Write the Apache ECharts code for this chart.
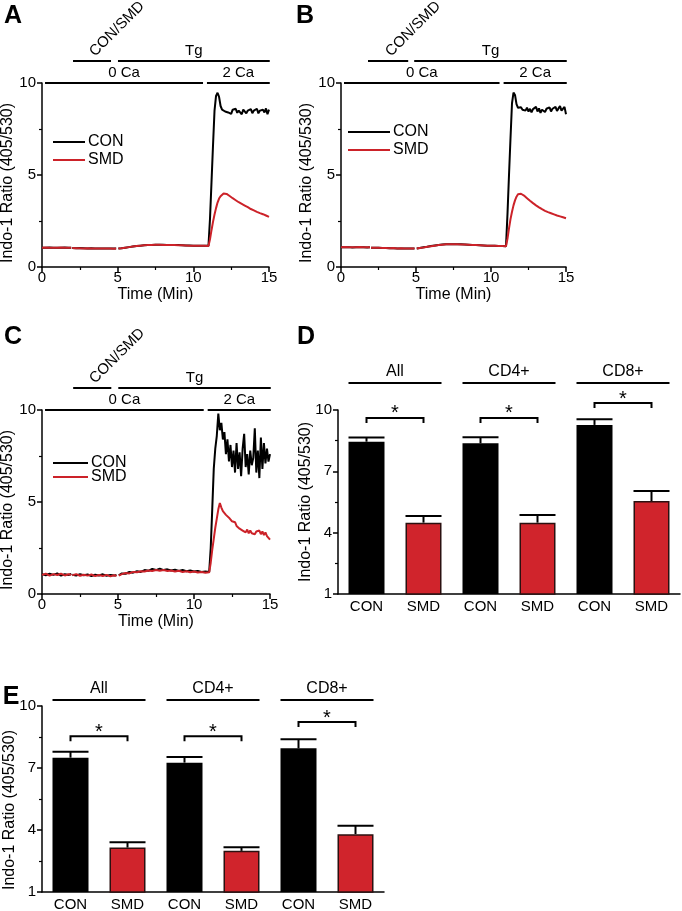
<!DOCTYPE html>
<html><head><meta charset="utf-8">
<script src="https://cdn.jsdelivr.net/npm/echarts@6/dist/echarts.min.js"></script>
<style>html,body{margin:0;padding:0;background:#fff}#c{width:682px;height:911px}</style>
</head><body><div id="c"></div>
<script>
// ---------------- DATA ----------------
const time = [0,0.25,0.5,0.75,1,1.25,1.5,1.75,1.93,1.96,
  2,2.25,2.5,2.75,3,3.25,3.5,3.75,4,4.25,4.5,4.75,4.9,4.97,
  5.05,5.25,5.5,5.75,6,6.25,6.5,6.75,7,7.25,7.5,7.75,8,8.25,8.5,8.75,9,9.25,9.5,9.75,10,10.25,10.5,10.75,11,
  11.1,11.2,11.3,11.4,11.5,11.6,11.7,11.8,11.9,12,12.1,12.2,12.3,12.4,12.5,12.6,12.7,12.8,12.9,13,
  13.1,13.2,13.3,13.4,13.5,13.6,13.7,13.8,13.9,14,14.1,14.2,14.3,14.4,14.5,14.6,14.7,14.8,14.9,15];

const aCon = [1.05,1.04,1.06,1.05,1.04,1.05,1.06,1.05,1.05,null,
  1.03,1.02,1.03,1.02,1.01,1.02,1.01,1.0,1.01,1.0,1.0,1.01,1.0,null,
  1.0,1.02,1.05,1.08,1.11,1.14,1.16,1.18,1.19,1.2,1.21,1.21,1.21,1.2,1.2,1.19,1.19,1.18,1.17,1.17,1.16,1.16,1.15,1.15,1.15,
  2.6,4.6,6.6,8.5,9.3,9.47,9.25,8.75,8.55,8.6,8.45,8.55,8.4,8.5,8.32,8.55,8.45,8.6,8.38,8.5,
  8.42,8.3,8.55,8.45,8.35,8.5,8.4,8.58,8.36,8.5,8.44,8.6,8.35,8.5,8.42,8.55,8.4,8.62,8.3,8.55];
const aSmd = [1.05,1.06,1.05,1.04,1.05,1.06,1.05,1.04,1.05,null,
  1.03,1.02,1.02,1.01,1.02,1.01,1.0,1.01,1.0,1.0,1.0,0.99,1.0,null,
  1.0,1.02,1.05,1.08,1.11,1.14,1.16,1.18,1.19,1.2,1.21,1.21,1.2,1.2,1.19,1.19,1.18,1.18,1.17,1.16,1.16,1.15,1.15,1.15,1.14,
  1.5,2.0,2.45,2.85,3.2,3.5,3.72,3.85,3.95,4.0,4.02,3.97,3.93,3.86,3.8,3.74,3.7,3.63,3.58,3.52,
  3.48,3.43,3.38,3.34,3.28,3.25,3.2,3.15,3.12,3.08,3.03,3.0,2.96,2.93,2.9,2.87,2.84,2.8,2.78,2.72];

const bCon = [1.08,1.07,1.08,1.06,1.07,1.08,1.07,1.06,1.07,null,
  1.05,1.04,1.04,1.03,1.03,1.02,1.02,1.01,1.01,1.01,1.0,1.01,1.0,null,
  1.0,1.03,1.07,1.1,1.14,1.17,1.2,1.22,1.23,1.24,1.24,1.23,1.23,1.22,1.21,1.2,1.19,1.18,1.17,1.16,1.15,1.15,1.14,1.14,1.13,
  2.9,5.0,7.0,8.9,9.48,9.35,8.85,8.65,8.6,8.68,8.55,8.62,8.5,8.66,8.45,8.6,8.4,8.58,8.5,8.7,
  8.45,8.62,8.38,8.55,8.65,8.42,8.6,8.5,8.68,8.45,8.6,8.52,8.7,8.48,8.62,8.75,8.5,8.6,8.7,8.3];
const bSmd = [1.08,1.09,1.07,1.08,1.07,1.09,1.08,1.07,1.08,null,
  1.05,1.04,1.05,1.03,1.03,1.02,1.03,1.01,1.02,1.01,1.0,1.0,1.0,null,
  1.0,1.03,1.06,1.1,1.13,1.16,1.19,1.21,1.23,1.24,1.23,1.23,1.22,1.22,1.21,1.2,1.19,1.18,1.17,1.16,1.16,1.15,1.14,1.14,1.13,
  1.55,2.1,2.6,3.0,3.35,3.62,3.82,3.95,4.0,3.98,3.93,3.88,3.8,3.74,3.66,3.6,3.52,3.47,3.4,3.35,
  3.3,3.24,3.2,3.14,3.1,3.05,3.02,2.98,2.95,2.92,2.88,2.86,2.82,2.8,2.77,2.75,2.72,2.7,2.68,2.65];

const cCon = [1.08,1.02,1.1,1.04,1.12,1.0,1.07,1.03,1.09,null,
  1.05,1.0,1.08,1.02,1.06,0.98,1.05,1.01,1.07,0.99,1.04,1.0,1.03,null,
  1.02,1.12,1.1,1.2,1.16,1.24,1.2,1.3,1.26,1.36,1.3,1.38,1.3,1.34,1.28,1.32,1.25,1.3,1.24,1.28,1.22,1.25,1.2,1.22,1.2,
  2.5,4.6,6.8,7.9,8.6,9.8,8.9,9.3,8.4,8.8,7.6,8.4,7.2,8.1,6.9,7.8,6.6,8.2,6.8,7.7,
  6.4,7.9,8.7,6.9,7.6,6.5,7.8,7.0,7.4,9.0,6.6,7.8,6.3,8.5,6.8,8.2,7.1,7.9,7.2,7.6];
const cSmd = [1.04,1.1,1.0,1.08,1.03,1.1,1.01,1.07,1.04,null,
  1.02,1.08,0.99,1.05,1.0,1.06,0.97,1.03,0.98,1.04,0.96,1.02,0.98,null,
  1.0,1.08,1.14,1.12,1.2,1.18,1.24,1.22,1.28,1.25,1.3,1.26,1.3,1.25,1.28,1.22,1.26,1.2,1.24,1.18,1.22,1.17,1.2,1.16,1.18,
  1.7,2.4,3.0,3.6,4.1,4.6,4.94,4.7,4.5,4.6,4.3,4.35,4.15,4.2,3.95,3.85,3.9,3.7,3.75,3.55,
  3.65,3.45,3.5,3.35,3.5,3.3,3.45,3.3,3.4,3.25,3.4,3.3,3.45,3.25,3.4,3.2,3.35,3.15,3.1,2.95];

const treatLabels = ['CON/SMD','Tg'];
const treatSpansAC = [[2.05,4.56],[5.02,15.05]];
const treatSpansB  = [[1.8,4.48],[4.88,15.05]];
const caLabels = ['0 Ca','2 Ca'];
const caSpansAC = [[0.2,10.64],[10.9,15.05]];
const caSpansB  = [[0.2,10.57],[10.84,15.05]];

const barCategories = ['CON','SMD','CON','SMD','CON','SMD'];
const groupNames = ['All','CD4+','CD8+'];
const dCon = [8.45,8.37,9.27], dConErr = [0.20,0.30,0.28];
const dSmd = [4.49,4.49,5.55], dSmdErr = [0.33,0.37,0.49];
const eCon = [7.50,7.26,7.95], eConErr = [0.29,0.27,0.44];
const eSmd = [3.15,2.99,3.80], eSmdErr = [0.26,0.18,0.41];
const sigMark = '*';

// ---------------- STYLE ----------------
const FONT = '"Liberation Sans", Arial, Helvetica, sans-serif';
const RED = '#cc2229';
const BAR_RED = '#d0242c';
const BAR_W = 36;
const yName = 'Indo-1 Ratio (405/530)';

function pairs(vals){ return time.map((t,i)=> vals[i]==null ? [t,'-'] : [t, vals[i]]); }

const axisCommon = {
  axisLine:{show:true, onZero:false, lineStyle:{color:'#000', width:1.5}},
  axisTick:{show:true, length:5, lineStyle:{color:'#000', width:1.5}},
  axisLabel:{color:'#000', fontSize:15, fontFamily:FONT},
  splitLine:{show:false},
  nameMoveOverlap:false,
  nameTextStyle:{color:'#000', fontSize:16, fontFamily:FONT}
};
function timeX(gi){
  return Object.assign({}, axisCommon, {gridIndex:gi, type:'value', min:0, max:15, interval:5,
    minorTick:{show:true, splitNumber:2, length:3, lineStyle:{color:'#000', width:1.2}},
    axisLabel:Object.assign({}, axisCommon.axisLabel, {margin:3}),
    name:'Time (Min)', nameLocation:'middle', nameGap:20});
}
function ratioY(gi, shift){
  return Object.assign({}, axisCommon, {gridIndex:gi, type:'value', min:0, max:10, interval:5,
    minorTick:{show:true, splitNumber:2, length:3, lineStyle:{color:'#000', width:1.2}},
    axisLabel:Object.assign({}, axisCommon.axisLabel, {margin:6}),
    name:yName, nameLocation:'middle', nameGap:26,
    nameTextStyle:Object.assign({}, axisCommon.nameTextStyle, {padding:[0,shift,0,0]})});
}
function catX(gi){
  return Object.assign({}, axisCommon, {gridIndex:gi, type:'category', data:barCategories,
    axisTick:{show:false}, axisLabel:Object.assign({}, axisCommon.axisLabel, {margin:5})});
}
function barY(gi, shift){
  return Object.assign({}, axisCommon, {gridIndex:gi, type:'value', min:1, max:10, interval:3,
    minorTick:{show:true, splitNumber:2, length:3, lineStyle:{color:'#000', width:1.2}},
    axisLabel:Object.assign({}, axisCommon.axisLabel, {margin:6}),
    name:yName, nameLocation:'middle', nameGap:24,
    nameTextStyle:Object.assign({}, axisCommon.nameTextStyle, {padding:[0,shift,0,0]})});
}

function lineSeries(gi, name, vals, color){
  return {type:'line', name, xAxisIndex:gi, yAxisIndex:gi, data:pairs(vals), symbol:'none', showSymbol:false,
    lineStyle:{color, width:2}, itemStyle:{color}, clip:true, silent:true, connectNulls:false};
}

function spanSeries(gi, spans, labels, level){
  return {type:'custom', xAxisIndex:gi, yAxisIndex:gi, clip:false, silent:true, z:5,
    data:spans.map(s=>[s[0], s[1], level]), encode:{x:[0,1], y:2},
    renderItem:(params, api)=>{
      const a = api.coord([api.value(0), api.value(2)]);
      const b = api.coord([api.value(1), api.value(2)]);
      const text = labels[params.dataIndex];
      const mid = (a[0]+b[0])/2;
      const rotated = text === 'CON/SMD';
      const txt = rotated
        ? {type:'text', x:mid+25, y:a[1]-32, rotation:Math.PI/4,
           style:{text, x:0, y:0, align:'center', verticalAlign:'middle', fontSize:15, fontFamily:FONT, fill:'#000'}}
        : {type:'text', x:mid, y:a[1]-10,
           style:{text, x:0, y:0, align:'center', verticalAlign:'middle', fontSize:15, fontFamily:FONT, fill:'#000'}};
      return {type:'group', children:[
        {type:'line', shape:{x1:a[0], y1:a[1], x2:b[0], y2:b[1]}, style:{stroke:'#000', lineWidth:2}},
        txt]};
    }};
}

function barSeries(gi, vals, offset, color, border){
  return {type:'bar', xAxisIndex:gi, yAxisIndex:gi, barWidth:BAR_W, barGap:'-100%', silent:true,
    data:barCategories.map((c,i)=> (i%2===offset) ? vals[(i-offset)/2] : '-'),
    itemStyle:{color, borderColor:border, borderWidth:border ? 1.5 : 0}};
}
function errSeries(gi, means, errs, offset){
  return {type:'custom', xAxisIndex:gi, yAxisIndex:gi, clip:false, silent:true, z:4,
    data:means.map((m,i)=>[2*i+offset, m, errs[i]]), encode:{x:0, y:1},
    renderItem:(params, api)=>{
      const base = api.coord([api.value(0), api.value(1)]);
      const top = api.coord([api.value(0), api.value(1)+api.value(2)]);
      return {type:'group', children:[
        {type:'line', shape:{x1:base[0], y1:base[1], x2:top[0], y2:top[1]}, style:{stroke:'#000', lineWidth:2}},
        {type:'line', shape:{x1:top[0]-BAR_W/2, y1:top[1], x2:top[0]+BAR_W/2, y2:top[1]}, style:{stroke:'#000', lineWidth:2}}
      ]};
    }};
}
function headerSeries(gi, level){
  return {type:'custom', xAxisIndex:gi, yAxisIndex:gi, clip:false, silent:true, z:5,
    data:groupNames.map((g,i)=>[2*i, 2*i+1, level]), encode:{x:[0,1], y:2},
    renderItem:(params, api)=>{
      const a = api.coord([api.value(0), api.value(2)]);
      const b = api.coord([api.value(1), api.value(2)]);
      const x1 = a[0]-BAR_W/2, x2 = b[0]+BAR_W/2;
      return {type:'group', children:[
        {type:'line', shape:{x1, y1:a[1], x2, y2:a[1]}, style:{stroke:'#000', lineWidth:2}},
        {type:'text', x:(x1+x2)/2, y:a[1]-11, style:{text:groupNames[params.dataIndex], x:0, y:0, align:'center', verticalAlign:'middle', fontSize:16, fontFamily:FONT, fill:'#000'}}
      ]};
    }};
}
function sigSeries(gi, levels){
  return {type:'custom', xAxisIndex:gi, yAxisIndex:gi, clip:false, silent:true, z:5,
    data:levels.map((l,i)=>[2*i, 2*i+1, l]), encode:{x:[0,1], y:2},
    renderItem:(params, api)=>{
      const a = api.coord([api.value(0), api.value(2)]);
      const b = api.coord([api.value(1), api.value(2)]);
      return {type:'group', children:[
        {type:'polyline', shape:{points:[[a[0],a[1]+5],[a[0],a[1]],[b[0],b[1]],[b[0],b[1]+5]]}, style:{stroke:'#000', lineWidth:2, fill:null}},
        {type:'text', x:(a[0]+b[0])/2, y:a[1]-4, style:{text:sigMark, x:0, y:0, align:'center', verticalAlign:'middle', fontSize:20, fontFamily:FONT, fill:'#000'}}
      ]};
    }};
}

function legendAt(left, top, w, gap){
  return {data:['CON','SMD'], left, top, orient:'vertical', icon:'rect', itemWidth:w, itemHeight:2, itemGap:gap,
    padding:0, selectedMode:false, textStyle:{color:'#000', fontSize:16, fontFamily:FONT, padding:[0,0,0,-2]}};
}

const letterStyle = {fontSize:25, fontWeight:'bold', fontFamily:FONT, fill:'#000'};
function letter(t, x, y){ return {type:'text', x, y, style:Object.assign({text:t, align:'center', verticalAlign:'middle'}, letterStyle)}; }

function gridAt(left, top, width, height){ return {left, top, width, height, outerBoundsMode:'none', containLabel:false}; }

const option = {
  animation:false,
  backgroundColor:'#fff',
  textStyle:{fontFamily:FONT},
  grid:[
    gridAt(42,83,227,184),
    gridAt(341,83,225,184),
    gridAt(42,410,228,184),
    gridAt(338,410,342,184),
    gridAt(42,706,342,186)
  ],
  xAxis:[timeX(0), timeX(1), timeX(2), catX(3), catX(4)],
  yAxis:[ratioY(0,16), ratioY(1,16), ratioY(2,16), barY(3,0), barY(4,22)],
  legend:[legendAt(53,134,32,2), legendAt(348,124,42,2), legendAt(53,455,35,-2)],
  graphic:[letter('A',13,16), letter('B',305,16), letter('C',13,337), letter('D',306,337), letter('E',11,697)],
  series:[
    lineSeries(0,'CON',aCon,'#000'), lineSeries(0,'SMD',aSmd,RED),
    lineSeries(1,'CON',bCon,'#000'), lineSeries(1,'SMD',bSmd,RED),
    lineSeries(2,'CON',cCon,'#000'), lineSeries(2,'SMD',cSmd,RED),
    spanSeries(0,treatSpansAC,treatLabels,11.2), spanSeries(0,caSpansAC,caLabels,10),
    spanSeries(1,treatSpansB,treatLabels,11.2), spanSeries(1,caSpansB,caLabels,10),
    spanSeries(2,treatSpansAC,treatLabels,11.2), spanSeries(2,caSpansAC,caLabels,10),
    barSeries(3,dCon,0,'#000',null), barSeries(3,dSmd,1,BAR_RED,'#2b1010'),
    errSeries(3,dCon,dConErr,0), errSeries(3,dSmd,dSmdErr,1),
    headerSeries(3,11.32), sigSeries(3,[9.61,9.61,10.34]),
    barSeries(4,eCon,0,'#000',null), barSeries(4,eSmd,1,BAR_RED,'#2b1010'),
    errSeries(4,eCon,eConErr,0), errSeries(4,eSmd,eSmdErr,1),
    headerSeries(4,10.29), sigSeries(4,[8.54,8.54,9.22])
  ]
};
const chart = echarts.init(document.getElementById('c'), null, {renderer:'canvas'});
chart.setOption(option);
</script>
</body></html>
